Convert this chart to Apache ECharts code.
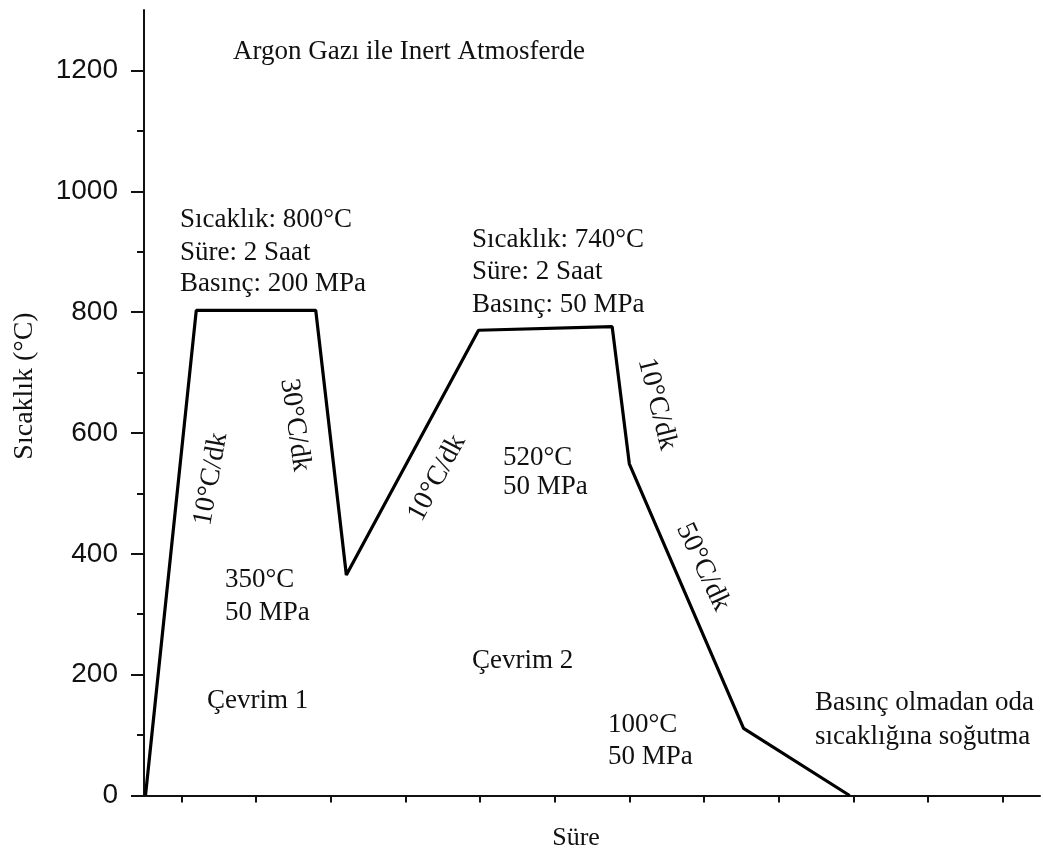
<!DOCTYPE html>
<html lang="tr">
<head>
    <meta charset="UTF-8">
    <title>Sıcaklık - Süre</title>
    <script src="https://cdn.jsdelivr.net/npm/echarts@6/dist/echarts.min.js"></script>
    <style>
        html, body { margin: 0; padding: 0; background: #fff; }
        #box { width: 1043px; height: 853px; }
    </style>
</head>
<body>
<div id="box"></div>
<script>
    // süre ekseni (birimsiz) ve sıcaklık değerleri
    var sure = [0.2, 7, 23, 27.1, 44.8, 62.7, 65, 80.3, 94.5];
    var sicaklik = [0, 803, 803, 365, 770, 776, 549, 111, 0];
    // eksen işaretleri
    var xTicks = [5, 15, 25, 35, 45, 55, 65, 75, 85, 95, 105, 115];
    var yTicks = [0, 200, 400, 600, 800, 1000, 1200];
    var yMinorTicks = [100, 300, 500, 700, 900, 1100];

    var serif = '"Liberation Serif", "Times New Roman", serif';
    var sans = '"Liberation Sans", Arial, sans-serif';

    // grafik üzerindeki yazılar: metin, x, y (merkez), dönüş açısı (derece), hizalama, boyut
    var notes = [
        ['Argon Gazı ile Inert Atmosferde', 233, 52, 0, 'left', 27],
        ['Sıcaklık: 800°C', 180, 220, 0, 'left', 27],
        ['Süre: 2 Saat', 180, 253, 0, 'left', 27],
        ['Basınç: 200 MPa', 180, 284, 0, 'left', 27],
        ['Sıcaklık: 740°C', 472, 240, 0, 'left', 27],
        ['Süre: 2 Saat', 472, 272, 0, 'left', 27],
        ['Basınç: 50 MPa', 472, 305, 0, 'left', 27],
        ['10°C/dk', 211, 479, 80, 'center', 28],
        ['30°C/dk', 295, 425, -82, 'center', 28],
        ['10°C/dk', 437, 478, 62, 'center', 28],
        ['10°C/dk', 657, 404, -76, 'center', 28],
        ['50°C/dk', 703, 567, -65, 'center', 28],
        ['520°C', 503, 458, 0, 'left', 27],
        ['50 MPa', 503, 487, 0, 'left', 27],
        ['350°C', 225, 580, 0, 'left', 27],
        ['50 MPa', 225, 613, 0, 'left', 27],
        ['Çevrim 1', 207, 701, 0, 'left', 27],
        ['Çevrim 2', 472, 661, 0, 'left', 27],
        ['100°C', 608, 725, 0, 'left', 27],
        ['50 MPa', 608, 757, 0, 'left', 27],
        ['Basınç olmadan oda', 815, 703, 0, 'left', 27],
        ['sıcaklığına soğutma', 815, 737, 0, 'left', 27],
        ['Süre', 576, 838, 0, 'center', 26],
        ['Sıcaklık (°C)', 25, 386, 90, 'center', 28]
    ];

    var myChart = echarts.init(document.getElementById('box'), null, { renderer: 'canvas' });

    var graphics = [];
    for (var i = 0; i < notes.length; i++) {
        var n = notes[i];
        graphics.push({
            type: 'text',
            x: n[1],
            y: n[2],
            rotation: n[3] * Math.PI / 180,
            silent: true,
            style: {
                text: n[0],
                fill: '#111',
                font: n[5] + 'px ' + serif,
                textAlign: n[4],
                textVerticalAlign: 'middle'
            }
        });
    }

    var pts = [];
    for (var i = 0; i < sure.length; i++)
        pts.push([sure[i], sicaklik[i]]);

    var option = {
        animation: false,
        backgroundColor: '#fff',
        grid: { left: 144, right: 3, top: 10, bottom: 57.5 },
        xAxis: {
            type: 'value',
            min: 0,
            max: 120,
            splitLine: { show: false },
            axisLine: { show: true, onZero: false, lineStyle: { color: '#111', width: 2 } },
            axisTick: { show: true, customValues: xTicks, length: 7, inside: false, lineStyle: { color: '#111', width: 2 } },
            axisLabel: { show: false }
        },
        yAxis: [{
            type: 'value',
            min: 0,
            max: 1300,
            splitLine: { show: false },
            axisLine: { show: true, lineStyle: { color: '#111', width: 2 } },
            axisTick: { show: true, customValues: yTicks, length: 13, inside: false, lineStyle: { color: '#111', width: 2 } },
            axisLabel: {
                show: true, customValues: yTicks, margin: 26, color: '#111', fontSize: 28, fontFamily: sans,
                formatter: function (v) { return String(v); }
            }
        }, {
            // ara çentikler
            type: 'value',
            min: 0,
            max: 1300,
            position: 'left',
            splitLine: { show: false },
            axisLine: { show: false },
            axisTick: { show: true, customValues: yMinorTicks, length: 7, inside: false, lineStyle: { color: '#111', width: 2 } },
            axisLabel: { show: false }
        }],
        series: [{
            type: 'line',
            data: pts,
            symbol: 'none',
            lineStyle: { color: '#000', width: 3.2 },
            silent: true
        }],
        graphic: graphics
    };
    myChart.setOption(option);
</script>
</body>
</html>
